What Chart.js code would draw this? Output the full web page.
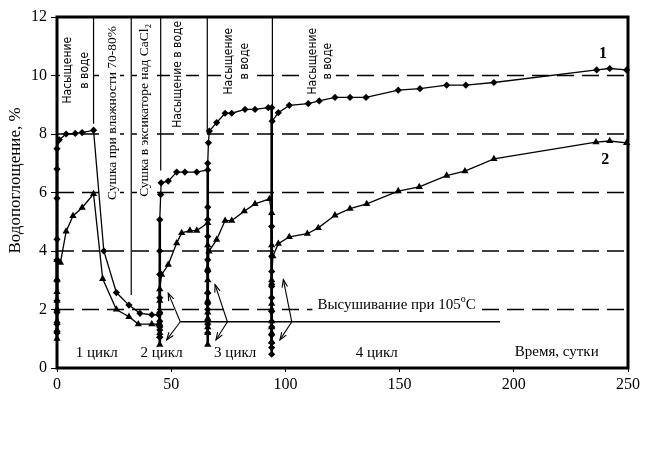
<!DOCTYPE html>
<html><head><meta charset="utf-8">
<script src="https://cdn.jsdelivr.net/npm/chart.js@4.4.0/dist/chart.umd.min.js"></script>
<style>html,body{margin:0;padding:0;background:#fff}#wrap{width:648px;height:452px}</style>
</head><body><div id="wrap"><canvas id="c" width="648" height="452"></canvas></div>
<script>
// ---- data (days, water absorption %) ----
const days1 = [0,0,0,0,0,0,0,0,0,0, 1,4,8,11,16,20.5,26,31.5,36.3,41.5,44.5,
  45,45,45,45,45,45,45,45,45, 45.4,45.6,48.7,52.4,56,61.2,66,
  66,66,66,66,66,66,66,66,66,66,66,66, 66.3,66.7,69.9,73.6,76.5,82.3,86.7,92.5,
  94,94,94,94,94,94,94,94,94,94, 94,94,94, 94.2,96.9,101.7,110,114.8,121.7,128.3,135.3,149.4,158.9,170.6,179,191.3,236.3,242,249.4];
const vals1 = [1.2,1.5,1.9,2.3,3.0,3.7,4.4,5.8,6.8,7.5, 7.8,8.0,8.02,8.05,8.13,4.0,2.58,2.15,1.87,1.82,1.82,
  1.6,1.3,1.05,1.4,1.9,2.4,3.2,4.0,5.07, 5.93,6.33,6.39,6.7,6.7,6.7,6.77,
  5.07,3.7,2.56,2.0,1.6,1.2,1.5,2.2,3.3,4.5,5.5,7.0, 7.7,8.1,8.39,8.71,8.71,8.84,8.84,8.9,
  8.9,4.84,3.82,2.79,1.93,1.59,1.13,0.86,0.47,0.7, 1.4,2.4,3.3, 8.44,8.73,8.98,9.04,9.13,9.25,9.25,9.25,9.5,9.55,9.67,9.67,9.76,10.19,10.24,10.19];
const days2 = [0,0,0,0,0,0,0,0, 1.5,4,7,11,16,20,26,31.5,35.6,41.5,44.5,
  45,45,45,45,45,45,45, 45.8,48.7,52.4,54.6,58.2,61.2,66,
  66,66,66,66,66,66,66,66,66,66, 66.5,69.9,73.6,76.5,82,86.7,93,
  94,94,94,94,94,94,94,94,94,94, 94.5,96.9,101.7,109.6,114.4,121.7,128.3,135.6,149.4,158.6,170.6,178.6,191.3,236,242,249.4];
const vals2 = [1.0,1.3,1.6,2.0,2.3,2.6,3.0,3.7, 3.6,4.67,5.2,5.48,5.95,3.05,2.0,1.75,1.5,1.5,1.5,
  1.2,0.8,1.1,1.5,1.9,2.3,2.7, 3.19,3.53,4.27,4.62,4.7,4.7,4.96,
  4.2,3.4,2.6,1.9,1.4,0.8,1.2,1.7,2.3,3.0, 3.99,4.39,5.04,5.04,5.36,5.61,5.78,
  5.3,4.2,3.0,2.2,1.6,1.2,0.9,1.4,2.0,2.9, 3.82,4.25,4.48,4.59,4.79,5.22,5.45,5.61,6.05,6.19,6.58,6.73,7.15,7.72,7.76,7.7];
const yTicks = [0,2,4,6,8,10,12];
const xTicks = [0,50,100,150,200,250];
const gridValues = [2,4,6,8,10];
const seriesNames = ['1','2'];
const yTitle = 'Водопоглощение, %';

// annotation texts (positions in data units)
const notes = [
  {t:'Насыщение', x:4.8, y:10.18, f:'narrow'},
  {t:'в воде', x:12.3, y:10.18, f:'narrow'},
  {t:'Сушка при влажности 70-80%', x:24.1, y:8.72, f:'serif'},
  {t:'Сушка в эксикаторе над CaCl₂', x:38.5, y:8.81, f:'serif'},
  {t:'Насыщение в воде', x:53, y:10.04, f:'narrow'},
  {t:'Насыщение', x:75.3, y:10.49, f:'narrow'},
  {t:'в воде', x:82.3, y:10.49, f:'narrow'},
  {t:'Насыщение', x:112, y:10.49, f:'narrow'},
  {t:'в воде', x:118.6, y:10.49, f:'narrow'}
];
const flatNotes = [
  {t:'1 цикл', x:17.4, y:0.5},
  {t:'2 цикл', x:45.8, y:0.5},
  {t:'3 цикл', x:78, y:0.5},
  {t:'4 цикл', x:140, y:0.5},
  {t:'Время, сутки', x:218.8, y:0.55}
];
const separators = [[16,12,8.35],[32.5,12,2.5],[45.4,12,6.75],[65.8,12,8.0],[94.3,12,8.95]];
const dryLine = {x0:54, x1:194, y:1.58};
const arrows = [
  [54,1.58,48.7,2.56],[54,1.58,48,0.96],
  [74.6,1.58,69.2,2.85],[74.6,1.58,69.6,0.96],
  [102.8,1.58,99.1,3.02],[102.8,1.58,97.6,0.96]
];

const pts = (d,v)=>d.map((x,i)=>({x:x,y:v[i]}));
const segW = {borderWidth: c => c.p0.parsed.x === c.p1.parsed.x ? 2.6 : 1.3};

const deco = {
  id:'deco',
  beforeDatasetsDraw(chart){
    const ctx=chart.ctx, xs=chart.scales.x, ys=chart.scales.y, a=chart.chartArea;
    ctx.save();
    // grid
    ctx.strokeStyle='#000'; ctx.lineWidth=1.4; ctx.setLineDash([17,8]);
    gridValues.forEach(v=>{const py=ys.getPixelForValue(v);ctx.beginPath();ctx.moveTo(a.left,py);ctx.lineTo(a.right,py);ctx.stroke();});
    ctx.setLineDash([]);
    // rotated labels with white background
    notes.forEach(n=>{
      const px=xs.getPixelForValue(n.x), py=ys.getPixelForValue(n.y);
      ctx.save(); ctx.translate(px,py); ctx.rotate(-Math.PI/2);
      ctx.font = n.f==='serif' ? '13.5px "Liberation Serif", serif' : '12px "Liberation Sans Narrow", "DejaVu Sans Condensed", sans-serif';
      const w=ctx.measureText(n.t).width;
      ctx.fillStyle='#fff'; ctx.fillRect(-w/2-3,-8,w+6,16);
      ctx.fillStyle='#000'; ctx.textAlign='center'; ctx.textBaseline='middle';
      ctx.fillText(n.t,0,0); ctx.restore();
    });
    // separators
    ctx.lineWidth=1.2;
    separators.forEach(s=>{const px=xs.getPixelForValue(s[0]);ctx.beginPath();ctx.moveTo(px,ys.getPixelForValue(s[1]));ctx.lineTo(px,ys.getPixelForValue(s[2]));ctx.stroke();});
    // drying line
    ctx.lineWidth=1.5;
    const dy=ys.getPixelForValue(dryLine.y);
    ctx.beginPath();ctx.moveTo(xs.getPixelForValue(dryLine.x0),dy);ctx.lineTo(xs.getPixelForValue(dryLine.x1),dy);ctx.stroke();
    // arrows
    ctx.lineWidth=1.1;
    arrows.forEach(r=>{
      const x0=xs.getPixelForValue(r[0]),y0=ys.getPixelForValue(r[1]),x1=xs.getPixelForValue(r[2]),y1=ys.getPixelForValue(r[3]);
      ctx.beginPath();ctx.moveTo(x0,y0);ctx.lineTo(x1,y1);ctx.stroke();
      const ang=Math.atan2(y1-y0,x1-x0), L=8;
      ctx.beginPath();
      ctx.moveTo(x1-L*Math.cos(ang-0.35),y1-L*Math.sin(ang-0.35));
      ctx.lineTo(x1,y1);
      ctx.lineTo(x1-L*Math.cos(ang+0.35),y1-L*Math.sin(ang+0.35));
      ctx.stroke();
    });
    // flat texts
    ctx.fillStyle='#000'; ctx.textAlign='center'; ctx.textBaseline='middle';
    ctx.font='15px "Liberation Serif", serif';
    flatNotes.forEach(n=>ctx.fillText(n.t,xs.getPixelForValue(n.x),ys.getPixelForValue(n.y)));
    // drying text with superscript
    const t1='Высушивание при 105', t2='o', t3='C';
    ctx.font='15px "Liberation Serif", serif'; const w1=ctx.measureText(t1).width, w3=ctx.measureText(t3).width;
    ctx.font='10px "Liberation Serif", serif'; const w2=ctx.measureText(t2).width;
    const W=w1+w2+w3, cx=xs.getPixelForValue(148.7), cy=ys.getPixelForValue(2.16);
    ctx.fillStyle='#fff'; ctx.fillRect(cx-W/2-5,cy-9,W+10,18);
    ctx.fillStyle='#000'; ctx.textAlign='left';
    ctx.font='15px "Liberation Serif", serif'; ctx.fillText(t1,cx-W/2,cy);
    ctx.font='10px "Liberation Serif", serif'; ctx.fillText(t2,cx-W/2+w1,cy-5);
    ctx.font='15px "Liberation Serif", serif'; ctx.fillText(t3,cx-W/2+w1+w2,cy);
    // series labels
    ctx.textAlign='center'; ctx.font='bold 16px "Liberation Serif", serif';
    ctx.fillText(seriesNames[0],xs.getPixelForValue(239),ys.getPixelForValue(10.73));
    ctx.fillText(seriesNames[1],xs.getPixelForValue(240),ys.getPixelForValue(7.13));
    // y title
    ctx.save(); ctx.translate(16,(a.top+a.bottom)/2-12); ctx.rotate(-Math.PI/2);
    ctx.font='17px "Liberation Serif", serif'; ctx.fillText(yTitle,0,0); ctx.restore();
    ctx.restore();
  },
  afterDatasetsDraw(chart){
    const ctx=chart.ctx,a=chart.chartArea;
    ctx.save(); ctx.strokeStyle='#000'; ctx.lineWidth=3;
    ctx.strokeRect(a.left,a.top,a.right-a.left,a.bottom-a.top); ctx.restore();
  }
};

new Chart(document.getElementById('c'),{
  type:'scatter',
  data:{datasets:[
    {label:seriesNames[0],data:pts(days1,vals1),showLine:true,borderColor:'#000',backgroundColor:'#000',
     pointStyle:'rectRot',pointRadius:3.6,pointBorderWidth:0,borderWidth:1.3,tension:0,segment:segW,clip:false},
    {label:seriesNames[1],data:pts(days2,vals2),showLine:true,borderColor:'#000',backgroundColor:'#000',
     pointStyle:'triangle',pointRadius:4.2,pointBorderWidth:0,borderWidth:1.3,tension:0,segment:segW,clip:false}
  ]},
  options:{
    responsive:false, animation:false, devicePixelRatio:1,
    layout:{padding:{top:17,right:20,left:0,bottom:0}},
    plugins:{legend:{display:false},tooltip:{enabled:false}},
    scales:{
      x:{type:'linear',min:0,max:250,afterBuildTicks:s=>{s.ticks=xTicks.map(v=>({value:v}));},
         afterFit:s=>{s.height=84;},
         grid:{drawOnChartArea:false,drawTicks:true,tickLength:4,color:'#000'},border:{display:false},
         ticks:{color:'#000',padding:3,maxRotation:0,font:{family:'"Liberation Serif", serif',size:16}}},
      y:{type:'linear',min:0,max:12,afterBuildTicks:s=>{s.ticks=yTicks.map(v=>({value:v}));},
         afterFit:s=>{s.width=57;},
         grid:{drawOnChartArea:false,drawTicks:true,tickLength:6,color:'#000'},border:{display:false},
         ticks:{color:'#000',padding:4,font:{family:'"Liberation Serif", serif',size:16}}}
    }
  },
  plugins:[deco]
});
</script></body></html>
